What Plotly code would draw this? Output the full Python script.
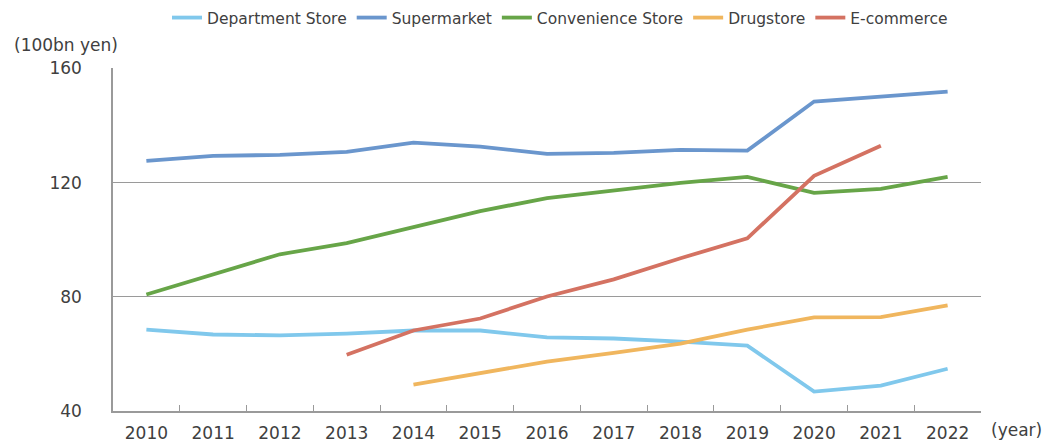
import plotly.graph_objects as go

years = [str(y) for y in range(2010, 2023)]
department_store = [68.5, 66.8, 66.5, 67.1, 68.2, 68.2, 65.8, 65.4, 64.3, 62.9, 46.8, 48.9, 54.8]
supermarket = [127.6, 129.4, 129.7, 130.8, 134.0, 132.6, 130.1, 130.4, 131.5, 131.2, 148.4, 150.2, 151.9]
convenience_store = [80.8, 87.9, 94.9, 98.8, 104.4, 110.0, 114.6, 117.4, 119.9, 122.0, 116.4, 117.8, 122.0]
drugstore = [None, None, None, None, 49.2, 53.4, 57.3, 60.4, 63.6, 68.5, 72.8, 72.9, 77.0]
ecommerce = [None, None, None, 59.7, 68.2, 72.4, 80.1, 86.1, 93.5, 100.5, 122.4, 132.9, None]

series = [
    ("Department Store", department_store, "#80c8ec"),
    ("Supermarket", supermarket, "#6a96cd"),
    ("Convenience Store", convenience_store, "#67a548"),
    ("Drugstore", drugstore, "#f0b65e"),
    ("E-commerce", ecommerce, "#d47262"),
]

fig = go.Figure()
for name, vals, color in series:
    fig.add_trace(go.Scatter(
        x=years, y=vals, name=name, mode="lines",
        line=dict(color=color, width=3.8),
        connectgaps=False,
    ))

# page body has an 8px margin; work in page pixels and subtract it
OFF = 8
W, H = 1043, 435
L, R, T, B = 113 - OFF, 70, 68 - OFF, 32

font_family = "DejaVu Sans, Verdana, sans-serif"
fig.update_layout(
    width=W, height=H,
    margin=dict(l=L, r=R, t=T, b=B, autoexpand=False),
    paper_bgcolor="white", plot_bgcolor="white",
    font=dict(family=font_family, color="#404040", size=17),
    showlegend=True,
    legend=dict(
        orientation="h", x=(560 - OFF) / W, xref="container", xanchor="center",
        y=1 - (18 - OFF) / H, yref="container", yanchor="middle",
        font=dict(size=15.5, color="#404040"), itemwidth=30, tracegroupgap=0,
        bgcolor="rgba(0,0,0,0)",
    ),
    xaxis=dict(
        type="category", range=[-0.5, 12.5],
        showline=True, linecolor="#9a9a9a", linewidth=1.5,
        ticks="inside", tickson="boundaries", ticklen=6, tickcolor="#9a9a9a",
        showgrid=False, tickfont=dict(size=17, color="#404040"),
        ticklabelstandoff=6,
    ),
    yaxis=dict(
        range=[40, 160.15], tickvals=[40, 80, 120, 160],
        showline=True, linecolor="#9a9a9a", linewidth=1.5,
        showgrid=True, gridcolor="#9a9a9a", gridwidth=1,
        zeroline=False, ticks="", ticklabelstandoff=26,
        tickfont=dict(size=17, color="#404040"),
    ),
)

pw = W - L - R
ph = H - T - B
def px(x):
    return (x - OFF - L) / pw
def py(y):
    return (H - B - (y - OFF)) / ph

fig.add_annotation(text="(100bn yen)", x=px(12), y=py(45), xref="paper", yref="paper",
                   showarrow=False, xanchor="left", yanchor="middle",
                   font=dict(size=17, color="#404040"))
fig.add_annotation(text="(year)", x=px(989), y=py(430), xref="paper", yref="paper",
                   showarrow=False, xanchor="left", yanchor="middle",
                   font=dict(size=17, color="#404040"))

fig.write_html("out.html")
